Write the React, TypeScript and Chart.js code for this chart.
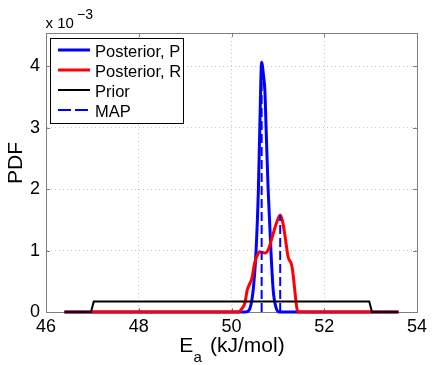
import React, { useEffect, useRef } from "react";
import { Chart, registerables } from "chart.js";

Chart.register(...registerables);

// ---- data (PDF values in units of 1e-3) ----
const postPX = [46.4, 50.3, 50.38, 50.44, 50.48, 50.53, 50.58, 50.61, 50.65, 50.69, 50.72, 50.75, 50.79, 50.85, 50.9, 50.97, 51.03, 53.6];
const postPY = [0, 0, 0.03, 0.2, 0.45, 1.0, 2.0, 3.0, 4.07, 3.85, 3.6, 2.9, 2.0, 1.0, 0.35, 0.05, 0, 0];

const postRX = [46.4, 50.15, 50.22, 50.29, 50.34, 50.4, 50.44, 50.5, 50.56, 50.61, 50.66, 50.72, 50.8, 50.87, 50.97, 51.05, 51.1, 51.15, 51.22, 51.3, 51.33, 51.36, 51.41, 51.45, 53.6];
const postRY = [0, 0, 0.05, 0.15, 0.36, 0.47, 0.55, 0.8, 0.93, 0.98, 0.97, 0.96, 1.03, 1.2, 1.45, 1.58, 1.48, 1.26, 0.9, 0.76, 0.6, 0.39, 0.06, 0, 0];

const priorX = [46.4, 46.97, 47.03, 52.97, 53.03, 53.6];
const priorY = [0, 0, 0.17, 0.17, 0, 0];

const mapX = [50.65, 50.65, 50.85, 51.05, 51.05];
const mapY: (number | null)[] = [0, 4.07, null, 0, 1.58];

const seriesLabels = ["Posterior, P", "Posterior, R", "Prior", "MAP"];
const xTicks = [46, 48, 50, 52, 54];
const yTicks = [0, 1, 2, 3, 4];
const xMin = 46;
const xMax = 54;
const yMin = 0;
const yMax = 4.545;

const FONT = "'Liberation Sans', Arial, Helvetica, sans-serif";

const pts = (xs: number[], ys: (number | null)[]) => xs.map((x, i) => ({ x, y: ys[i] }));

const decorPlugin = {
  id: "decor",
  beforeDatasetsDraw(chart: any) {
    const { ctx, chartArea } = chart;
    const { left, right, top, bottom } = chartArea;
    const xs = chart.scales.x;
    const ys = chart.scales.y;
    ctx.save();
    ctx.strokeStyle = "#808080";
    ctx.lineWidth = 1;
    ctx.beginPath();
    ctx.moveTo(Math.round(left) + 0.5, Math.round(top) + 0.5);
    ctx.lineTo(Math.round(right) + 0.5, Math.round(top) + 0.5);
    ctx.lineTo(Math.round(right) + 0.5, Math.round(bottom) + 0.5);
    ctx.stroke();
    const tl = 4;
    ctx.beginPath();
    xTicks.forEach((v) => {
      const px = Math.round(xs.getPixelForValue(v)) + 0.5;
      ctx.moveTo(px, bottom);
      ctx.lineTo(px, bottom - tl);
      ctx.moveTo(px, top);
      ctx.lineTo(px, top + tl);
    });
    yTicks.forEach((v) => {
      const py = Math.round(ys.getPixelForValue(v)) + 0.5;
      ctx.moveTo(left, py);
      ctx.lineTo(left + tl, py);
      ctx.moveTo(right, py);
      ctx.lineTo(right - tl, py);
    });
    ctx.stroke();
    ctx.restore();
  },
  afterDraw(chart: any) {
    const { ctx } = chart;
    ctx.save();
    // legend
    ctx.fillStyle = "#ffffff";
    ctx.fillRect(51, 38, 133, 85);
    ctx.strokeStyle = "#000000";
    ctx.lineWidth = 1;
    ctx.strokeRect(50.5, 38.5, 133, 85);
    chart.data.datasets.forEach((ds: any, i: number) => {
      const y = 50 + 20 * i;
      ctx.beginPath();
      ctx.strokeStyle = ds.borderColor;
      ctx.lineWidth = ds.borderWidth;
      ctx.setLineDash(ds.borderDash && ds.borderDash.length ? [13, 4] : []);
      ctx.moveTo(58, y);
      ctx.lineTo(90, y);
      ctx.stroke();
      ctx.setLineDash([]);
      ctx.fillStyle = "#000000";
      ctx.font = `16.5px ${FONT}`;
      ctx.textAlign = "left";
      ctx.textBaseline = "alphabetic";
      ctx.fillText(ds.label, 95, y + 7.3);
    });
    // multiplier
    ctx.fillStyle = "#000000";
    ctx.font = `15px ${FONT}`;
    ctx.textAlign = "left";
    ctx.textBaseline = "alphabetic";
    ctx.fillText("x 10", 45.5, 28.3);
    ctx.font = `14px ${FONT}`;
    ctx.fillText("\u22123", 77, 18.5);
    // x title
    ctx.font = `21px ${FONT}`;
    ctx.fillText("E", 179.3, 351.7);
    ctx.font = `15px ${FONT}`;
    ctx.fillText("a", 193.5, 361.5);
    ctx.font = `21px ${FONT}`;
    ctx.fillText("(kJ/mol)", 210, 351.7);
    // y title
    ctx.translate(16.7, 163);
    ctx.rotate(-Math.PI / 2);
    ctx.textAlign = "center";
    ctx.textBaseline = "middle";
    ctx.font = `21px ${FONT}`;
    ctx.fillText("PDF", 0, 0);
    ctx.restore();
  },
};

export default function App() {
  const ref = useRef<HTMLCanvasElement | null>(null);
  useEffect(() => {
    document.body.style.margin = "0";
    Chart.defaults.font.family = FONT;
    const chart = new Chart(ref.current as HTMLCanvasElement, {
      type: "line",
      data: {
        datasets: [
          {
            label: seriesLabels[0],
            data: pts(postPX, postPY),
            borderColor: "#0000ff",
            borderWidth: 3,
            pointRadius: 0,
            cubicInterpolationMode: "monotone",
            order: 3,
            clip: false,
          },
          {
            label: seriesLabels[1],
            data: pts(postRX, postRY),
            borderColor: "#ff0000",
            borderWidth: 3,
            pointRadius: 0,
            cubicInterpolationMode: "monotone",
            order: 2,
            clip: false,
          },
          {
            label: seriesLabels[2],
            data: pts(priorX, priorY),
            borderColor: "#000000",
            borderWidth: 2,
            pointRadius: 0,
            order: 1,
            clip: false,
          },
          {
            label: seriesLabels[3],
            data: pts(mapX, mapY),
            borderColor: "#0000ff",
            borderWidth: 2,
            borderDash: [9, 4],
            pointRadius: 0,
            spanGaps: false,
            order: 0,
            clip: false,
          },
        ] as any,
      },
      options: {
        animation: false,
        responsive: false,
        events: [],
        layout: { padding: { top: 33, right: 15, left: 0, bottom: 0 } },
        plugins: { legend: { display: false }, tooltip: { enabled: false } },
        scales: {
          x: {
            type: "linear",
            min: xMin,
            max: xMax,
            afterBuildTicks: (s: any) => {
              s.ticks = xTicks.map((v) => ({ value: v }));
            },
            afterFit: (s: any) => {
              s.height = 53;
            },
            ticks: {
              font: { size: 18, family: FONT },
              color: "#000000",
              padding: 4,
              maxRotation: 0,
              autoSkip: false,
            },
            grid: {
              drawTicks: false,
              color: (c: any) =>
                c.tick && (c.tick.value === xMin || c.tick.value === xMax) ? "rgba(0,0,0,0)" : "rgba(0,0,0,0.22)",
            },
            border: { color: "#808080", width: 1, dash: [1, 3] },
          },
          y: {
            type: "linear",
            min: yMin,
            max: yMax,
            afterBuildTicks: (s: any) => {
              s.ticks = yTicks.map((v) => ({ value: v }));
            },
            afterFit: (s: any) => {
              s.width = 46;
            },
            ticks: {
              font: { size: 18, family: FONT },
              color: "#000000",
              padding: 6,
              autoSkip: false,
            },
            grid: {
              drawTicks: false,
              color: (c: any) => (c.tick && c.tick.value === yMin ? "rgba(0,0,0,0)" : "rgba(0,0,0,0.22)"),
            },
            border: { color: "#808080", width: 1, dash: [1, 3] },
          },
        },
      },
      plugins: [decorPlugin],
    } as any);
    return () => chart.destroy();
  }, []);
  return (
    <div style={{ width: 432, height: 365, background: "#ffffff" }}>
      <canvas ref={ref} width={432} height={365} />
    </div>
  );
}
